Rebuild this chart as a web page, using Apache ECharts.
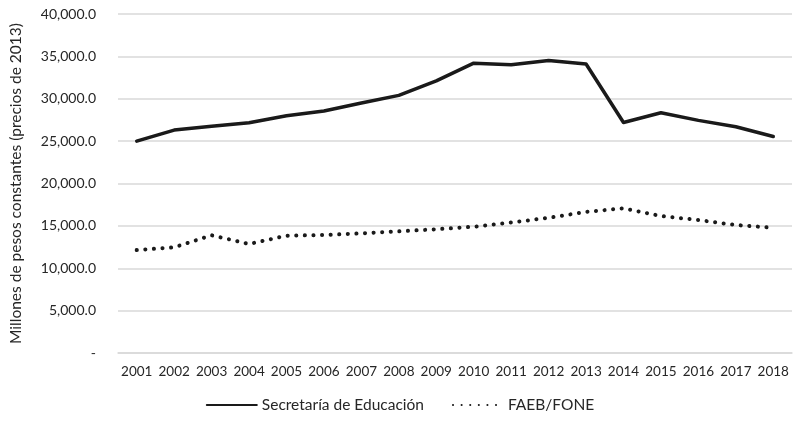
<!DOCTYPE html>
<html>
<head>
<meta charset="utf-8">
<script src="https://cdn.jsdelivr.net/npm/echarts@6/dist/echarts.min.js"></script>
<style>html,body{margin:0;padding:0;background:#fff;}#c{width:800px;height:423px;}</style>
</head>
<body>
<div id="c"></div>
<script>
const years = ['2001','2002','2003','2004','2005','2006','2007','2008','2009','2010','2011','2012','2013','2014','2015','2016','2017','2018'];
const secretaria = [25000, 26300, 26750, 27170, 28000, 28550, 29500, 30400, 32100, 34200, 34000, 34500, 34100, 27200, 28350, 27450, 26700, 25550];
const faeb = [12150, 12470, 13890, 12860, 13840, 13920, 14120, 14360, 14600, 14900, 15400, 15950, 16650, 17070, 16160, 15690, 15100, 14780];
const seriesNames = ['Secretaría de Educación', 'FAEB/FONE'];
const yAxisTitle = 'Millones de pesos constantes (precios de 2013)';

const chart = echarts.init(document.getElementById('c'));
const font = 'Lato, "Open Sans", sans-serif';
chart.setOption({
  animation: false,
  textStyle: { fontFamily: font },
  grid: { left: 111, right: 8, top: 14, bottom: 70 },
  legend: {
    bottom: 5,
    left: 'center',
    itemWidth: 50,
    itemHeight: 10,
    itemGap: 28,
    itemStyle: { opacity: 0 },
    textStyle: { fontFamily: font, fontSize: 15.5, color: '#262626' },
    data: seriesNames
  },
  xAxis: {
    type: 'category',
    data: years,
    boundaryGap: true,
    axisLine: { show: true, lineStyle: { color: '#d9d9d9', width: 1.5 } },
    axisTick: { show: false },
    axisLabel: { interval: 0, fontFamily: font, fontSize: 13.5, color: '#262626', margin: 12 }
  },
  yAxis: {
    type: 'value',
    min: 0, max: 40000, interval: 5000,
    name: yAxisTitle,
    nameLocation: 'middle',
    nameGap: 94,
    nameTextStyle: { fontFamily: font, fontSize: 15.5, color: '#262626' },
    axisLine: { show: false },
    axisTick: { show: false },
    splitLine: { lineStyle: { color: '#d9d9d9', width: 1.5 } },
    axisLabel: {
      fontFamily: font, fontSize: 14, color: '#262626', margin: 22,
      formatter: v => v === 0 ? '-' : v.toLocaleString('en-US', { minimumFractionDigits: 1, maximumFractionDigits: 1 })
    }
  },
  series: [
    {
      name: seriesNames[0], type: 'line', data: secretaria,
      showSymbol: false, symbol: 'none',
      lineStyle: { color: '#1a1a1a', width: 3.5, cap: 'round', join: 'round' },
      itemStyle: { color: '#1a1a1a' }
    },
    {
      name: seriesNames[1], type: 'line', data: faeb,
      showSymbol: false, symbol: 'none',
      lineStyle: { color: '#1a1a1a', width: 4, type: [0.1, 8.5], cap: 'round', join: 'round' },
      itemStyle: { color: '#1a1a1a' }
    }
  ]
});
</script>
</body>
</html>
